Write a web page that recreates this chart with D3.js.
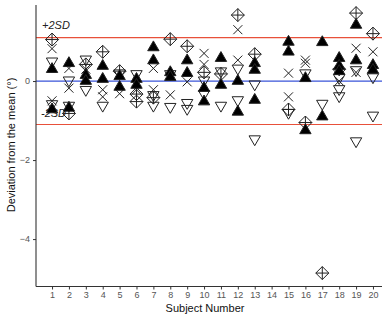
<!DOCTYPE html>
<html>
<head>
<meta charset="utf-8">
<script src="https://cdn.jsdelivr.net/npm/d3@7"></script>
<style>
  body { margin: 0; background: #fff; }
  svg { font-family: "Liberation Sans", Arial, sans-serif; }
</style>
</head>
<body>
<div id="chart"></div>
<script>
const width = 382;
const height = 320;

// subjects 1..20, each with a list of deviations per marker type (subject 14 has no data)
const subjects = d3.range(1, 21);
const filledUp = [[0.3, -0.72], [0.45, -0.68], [0.15, 0.0], [0.38, 0.05], [0.12, -0.15],
	[0.05, -0.1], [0.85, 0.52], [0.22, 0.1], [0.52, 0.2], [-0.18, -0.52],
	[0.58, -0.1], [0.0, -0.78], [0.45, 0.28, -0.48], [], [0.99, 0.74],
	[0.07, -1.25], [0.98, -0.9], [0.58, 0.38, 0.25], [1.42, 0.52], [0.4, 0.28]];
const openDown = [[0.5, -0.58], [0.02, -0.62], [0.55, -0.22], [-0.62], [0.2],
	[0.18], [-0.35, -0.62], [0.18, -0.65], [-0.55, -0.7], [0.02, -0.32],
	[0.25, -0.62], [0.32, -0.48], [-0.08, -1.47], [], [-0.8],
	[0.2], [-0.57], [0.08, -0.2, -0.38], [0.28, -1.52], [0.1, -0.87]];
const crosses = [[0.82, -0.5], [0.32, -0.18], [0.3], [-0.22, -0.4], [-0.32],
	[-0.22], [0.32, -0.22], [-0.35], [-0.02], [0.7, 0.42],
	[], [1.3, 0.53], [], [], [0.2, -0.4],
	[0.53, 0.45], [], [0.0], [0.83, 0.22], [0.74]];
const diamonds = [[1.05], [-0.82], [0.42], [0.74], [0.25],
	[-0.33, -0.52], [-0.42], [1.06], [0.88], [0.22],
	[0.18], [1.67], [0.68], [], [-0.72],
	[-1.05], [-4.86], [0.3], [1.72], [1.2]];
const meanLine = 0;
const sdLines = [1.1, -1.1];
const yTicks = [-4, -2, 0];

var svg = d3.select("#chart")
	.append("svg")
	.attr("width", width)
	.attr("height", height);

var x = d3.scaleLinear().domain([0.05, 20.95]).range([36, 389]);
var y = d3.scaleLinear().domain([-5.2, 1.95]).range([286.5, 4]);

// reference lines
svg.selectAll(".sd")
	.data(sdLines)
	.enter()
	.append("line")
	.attr("x1", 36).attr("x2", width)
	.attr("y1", (d) => y(d)).attr("y2", (d) => y(d))
	.attr("stroke", "#e8503a")
	.attr("stroke-width", 1.2);

svg.append("line")
	.attr("x1", 36).attr("x2", width)
	.attr("y1", y(meanLine)).attr("y2", y(meanLine))
	.attr("stroke", "#3a55d8")
	.attr("stroke-width", 1.2);

svg.append("text")
	.attr("x", 42).attr("y", y(sdLines[0]) - 9)
	.attr("font-size", 11).attr("font-style", "italic")
	.attr("fill", "#222")
	.text("+2SD");
svg.append("text")
	.attr("x", 41).attr("y", y(sdLines[1]) - 8)
	.attr("font-size", 11).attr("font-style", "italic")
	.attr("fill", "#222")
	.text("-2SD");

// axes
var xAxis = d3.axisBottom(x).tickValues(subjects).tickSize(3).tickPadding(2);
var yAxis = d3.axisLeft(y).tickValues(yTicks).tickSize(3).tickPadding(3);

var gx = svg.append("g").attr("transform", `translate(0, ${y.range()[0]})`).call(xAxis);
var gy = svg.append("g").attr("transform", "translate(36, 0)").call(yAxis);

[gx, gy].forEach((g) => {
	g.select(".domain").attr("stroke", "#333").attr("stroke-width", 1.1);
	g.selectAll(".tick line").attr("stroke", "#333");
	g.selectAll(".tick text").attr("fill", "#555").attr("font-size", 9)
		.attr("font-family", "Liberation Sans, Arial, sans-serif");
});
gy.select(".domain").attr("d", `M-0,${y.range()[1] + 1}V${y.range()[0]}`);
gx.select(".domain").attr("d", `M36,0H${width}`);

svg.append("text")
	.attr("x", 205).attr("y", 312)
	.attr("text-anchor", "middle")
	.attr("font-size", 11)
	.attr("fill", "#111")
	.text("Subject Number");

svg.append("text")
	.attr("transform", "translate(15, 145) rotate(-90)")
	.attr("text-anchor", "middle")
	.attr("font-size", 11)
	.attr("fill", "#111")
	.text("Deviation from the mean (°)");

// flatten per-subject lists into points
function flatten(series) {
	var out = [];
	series.forEach((vals, i) => vals.forEach((v) => out.push({ s: subjects[i], v: v })));
	return out;
}

const tri = d3.symbol().type(d3.symbolTriangle).size(56)();
const crossPath = "M-4.5,-4.5L4.5,4.5M-4.5,4.5L4.5,-4.5";
const diamondPath = "M0,-6.5L6.5,0L0,6.5L-6.5,0ZM0,-6.5V6.5M-6.5,0H6.5";

function drawPoints(series, path, opts) {
	svg.append("g")
		.selectAll("path")
		.data(flatten(series))
		.enter()
		.append("path")
		.attr("d", path)
		.attr("transform", (d) => `translate(${x(d.s)}, ${y(d.v)})${opts.rotate ? " rotate(180)" : ""}`)
		.attr("fill", opts.fill)
		.attr("stroke", "#222")
		.attr("stroke-width", 1);
}

drawPoints(diamonds, diamondPath, { fill: "none" });
drawPoints(crosses, crossPath, { fill: "none" });
drawPoints(openDown, tri, { fill: "none", rotate: true });
drawPoints(filledUp, tri, { fill: "#000" });
</script>
</body>
</html>
